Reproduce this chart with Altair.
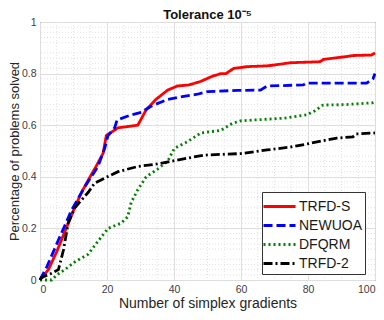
import altair as alt
import pandas as pd

methods = ["TRFD-S", "NEWUOA", "DFQRM", "TRFD-2"]
colors = ["#ff0000", "#0000ff", "#008000", "#000000"]
dashes = [[1, 0], [9, 4], [2, 3], [9, 3, 2, 3]]

trfds_x = [0, 2.5, 5, 7.5, 10, 12.4, 14.5, 16.3, 18.8, 19.8, 21, 23.3, 29.2, 31.7, 34.6, 38.1, 41, 44.5,
           48, 51.5, 54, 55.5, 57.8, 61.8, 67.8, 69.7, 74.7, 76.7, 83.6, 84.6, 91.5, 93.4, 98.9, 100]
trfds_y = [0, 0.04, 0.11, 0.19, 0.27, 0.34, 0.39, 0.43, 0.49, 0.56, 0.57, 0.59, 0.60, 0.66, 0.70, 0.736, 0.752, 0.756,
           0.77, 0.79, 0.80, 0.80, 0.82, 0.827, 0.83, 0.833, 0.842, 0.843, 0.846, 0.855, 0.866, 0.87, 0.872, 0.88]

newuoa_x = [0, 2, 5.5, 9.4, 13.3, 17.3, 19.3, 20.3, 22.3, 23, 27.2, 30.2, 33.4, 38.1, 42, 47, 50, 58.9, 65.8,
            67.8, 78.6, 79.6, 97.5, 99.4, 100]
newuoa_y = [0, 0.05, 0.155, 0.27, 0.36, 0.44, 0.51, 0.56, 0.59, 0.62, 0.64, 0.65, 0.675, 0.70, 0.71, 0.72, 0.73, 0.735, 0.736,
            0.752, 0.756, 0.763, 0.763, 0.78, 0.80]

dfqrm_x = [0, 3.5, 5, 7.4, 10.4, 14.4, 17.3, 20.3, 24.2, 26.2, 27.2, 29.2, 31.7, 35.1, 38.1, 40.1, 44, 48, 54,
           57.4, 59.9, 72.6, 79.6, 82.1, 84.5, 91.5, 99.3, 100]
dfqrm_y = [0, 0, 0.02, 0.04, 0.07, 0.10, 0.15, 0.20, 0.22, 0.245, 0.30, 0.35, 0.40, 0.43, 0.46, 0.51, 0.536, 0.57, 0.58,
           0.607, 0.617, 0.627, 0.64, 0.656, 0.678, 0.68, 0.687, 0.69]

trfd2_x = [0, 0.5, 3.5, 5.5, 7, 8.4, 10.4, 14.4, 16.3, 19.3, 23.3, 29.2, 35.1, 41, 49, 59.9, 67.8, 74.7, 79.6,
           85.6, 88.6, 93.4, 94.4, 100]
trfd2_y = [0, 0.01, 0.026, 0.04, 0.116, 0.22, 0.28, 0.34, 0.375, 0.395, 0.42, 0.44, 0.45, 0.465, 0.484, 0.49, 0.504,
           0.515, 0.527, 0.543, 0.55, 0.555, 0.566, 0.57]

x_ticks = [0, 20, 40, 60, 80, 100]
y_ticks = [0, 0.1, 0.2, 0.3, 0.4, 0.5, 0.6, 0.7, 0.8, 0.9, 1.0]
x_minor = [v for v in range(5, 100, 5) if v % 20 != 0]
y_minor = [round(i * 0.02, 2) for i in range(1, 50) if i % 5 != 0]

series = [(methods[0], trfds_x, trfds_y), (methods[1], newuoa_x, newuoa_y),
          (methods[2], dfqrm_x, dfqrm_y), (methods[3], trfd2_x, trfd2_y)]
rows = []
for name, xs_, ys_ in series:
    for i, (a, b) in enumerate(zip(xs_, ys_)):
        rows.append({"method": name, "x": a, "y": b, "i": i})
df = pd.DataFrame(rows)

xs = alt.Scale(domain=[0, 100], nice=False)
ys = alt.Scale(domain=[0, 1], nice=False)

minor_x = alt.Chart(pd.DataFrame({"x": x_minor})).mark_rule(
    color="#e2e2e2", strokeDash=[1, 2], strokeWidth=1
).encode(x=alt.X("x:Q", scale=xs))
minor_y = alt.Chart(pd.DataFrame({"y": y_minor})).mark_rule(
    color="#e2e2e2", strokeDash=[1, 2], strokeWidth=1
).encode(y=alt.Y("y:Q", scale=ys))

legend = alt.Legend(
    title=None, orient="none", legendX=222, legendY=170,
    symbolType="M-2.2,0L1,0", symbolSize=400, symbolStrokeWidth=3, symbolOffset=9,
    labelFontSize=14, labelFont="Liberation Sans", labelColor="#1a1a1a",
    labelOffset=2, rowPadding=0, padding=3,
    fillColor="white", strokeColor="#333333",
)

lines = alt.Chart(df).mark_line(strokeWidth=2.8).encode(
    x=alt.X("x:Q", scale=xs,
            axis=alt.Axis(values=x_ticks, title="Number of simplex gradients", format="d")),
    y=alt.Y("y:Q", scale=ys,
            axis=alt.Axis(values=y_ticks, title="Percentage of problems solved",
                          labelExpr="datum.value == 0 ? '0' : datum.value == 1 ? '1' : format(datum.value, '.1f')")),
    color=alt.Color("method:N", scale=alt.Scale(domain=methods, range=colors), legend=legend),
    strokeDash=alt.StrokeDash("method:N", scale=alt.Scale(domain=methods, range=dashes), legend=legend),
    order="i:Q",
)

chart = alt.layer(minor_x, minor_y, lines).properties(
    width=335, height=258,
    title=alt.TitleParams("Tolerance 10⁻⁵", fontSize=13, fontWeight="bold",
                          font="Liberation Sans", color="#111111", offset=-5),
    autosize=alt.AutoSizeParams(type="none"),
    padding={"left": 32, "top": 14, "right": 1, "bottom": 32},
).configure_axis(
    grid=True, gridColor="#dedede", gridWidth=1,
    ticks=False, domain=False,
    labelFont="Liberation Sans", labelFontSize=10.5, labelColor="#404040",
    titleFont="Liberation Sans", titleFontSize=13, titleFontWeight="normal", titleColor="#262626",
).configure_axisY(titlePadding=0, labelPadding=4).configure_axisX(titlePadding=2, labelPadding=4, titleFontSize=14).configure_view(
    stroke="#262626", strokeWidth=1
)

chart.save("out.html", embed_options={"renderer": "svg", "actions": False})
